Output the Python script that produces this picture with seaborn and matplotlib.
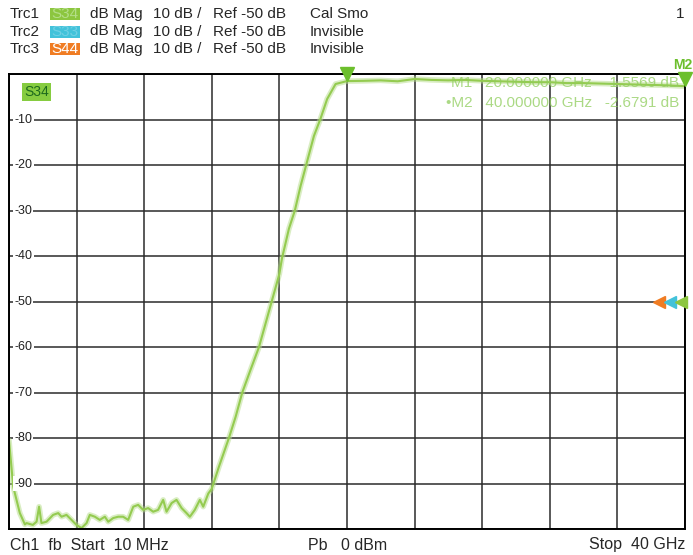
import matplotlib
matplotlib.use("Agg")
import matplotlib.pyplot as plt
import matplotlib.transforms as mtrans
from matplotlib.patches import Rectangle
import seaborn as sns
import pandas as pd
import numpy as np

sns.set_style("white")
plt.rcParams['font.family'] = ['Liberation Sans', 'DejaVu Sans']

# S34 trace (frequency in GHz, magnitude in dB)
freq_ghz = [0.01, 0.26, 0.65, 0.95, 1.05, 1.42, 1.64, 1.79, 1.93, 2.23, 2.62, 2.92,
            3.12, 3.41, 3.71, 4.0, 4.3, 4.6, 4.79, 5.09, 5.38, 5.68, 5.88, 6.17,
            6.47, 6.76, 7.06, 7.36, 7.65, 7.95, 8.24, 8.54, 8.83, 9.13, 9.33, 9.63,
            9.92, 10.22, 10.51, 10.71, 11.0, 11.3, 11.5, 11.8, 12.0, 12.43, 13.02,
            13.42, 13.81, 14.3, 14.8, 15.55, 16.0, 16.16, 16.57, 16.92, 17.26, 17.59,
            18.05, 18.44, 18.83, 19.33, 20.0, 21.0, 22.0, 23.0, 24.0, 25.0, 26.0,
            27.0, 28.0, 29.0, 30.0, 31.0, 32.0, 33.0, 34.0, 35.0, 36.0, 37.0, 38.0,
            39.0, 40.0]
s34_db = [-80.5, -90.7, -96.5, -99.0, -98.7, -99.1, -98.4, -95.1, -98.7, -98.4, -96.9, -96.5,
          -97.3, -96.9, -98.0, -99.1, -99.8, -98.7, -96.9, -97.3, -98.0, -97.3, -98.4, -97.6,
          -97.3, -97.3, -98.0, -95.1, -94.7, -95.8, -95.4, -96.2, -95.8, -93.6, -96.2, -94.3,
          -93.6, -95.4, -96.5, -97.3, -95.8, -93.6, -95.1, -92.2, -91.2, -86.3, -80.0,
          -75.3, -70.0, -65.0, -60.0, -50.0, -44.0, -40.5, -34.0, -30.0, -24.6, -20.0,
          -13.6, -9.8, -5.5, -2.2, -1.56, -1.5, -1.4, -1.6, -1.1, -1.3, -1.4,
          -1.3, -1.5, -1.6, -1.7, -1.8, -1.8, -2.0, -2.0, -2.1, -2.2, -2.3, -2.4,
          -2.5, -2.68]

marker_names = ["M1", "M2"]
marker_freq = [20.0, 40.0]
marker_db = [-1.5569, -2.6791]

y_ticks = [-10, -20, -30, -40, -50, -60, -70, -80, -90]
ref_level = -50
start_ghz, stop_ghz = 0.01, 40.0

green = "#8cc63f"
cyan = "#42c2da"
orange = "#f07c22"

W, H = 693, 555
fig = plt.figure(figsize=(W / 100, H / 100), dpi=100)
ax = fig.add_axes([9 / W, 26 / H, 676 / W, 455 / H])

df = pd.DataFrame({"freq": freq_ghz, "db": s34_db})
sns.lineplot(data=df, x="freq", y="db", ax=ax, color="#b5dd88", lw=4, alpha=0.5)
sns.lineplot(data=df, x="freq", y="db", ax=ax, color="#94cb50", lw=1.5)

ax.set_xlim(start_ghz, stop_ghz)
ax.set_ylim(-100, 0)
ax.set_xticks(np.linspace(start_ghz, stop_ghz, 11))
ax.set_yticks(np.arange(-100, 1, 10))
ax.grid(True, color="#2b2b2b", lw=1.1)
ax.tick_params(length=0, labelbottom=False, labelleft=False)
ax.set_xlabel("")
ax.set_ylabel("")
for s in ax.spines.values():
    s.set_color("black")
    s.set_linewidth(1.4)

# y labels written inside the grid
blend = mtrans.blended_transform_factory(ax.transAxes, ax.transData)
for v in y_ticks:
    ax.text(0.008, v, f"{v}", transform=blend, ha="left", va="center", fontsize=9,
            color="#222222", bbox=dict(fc="white", ec="none", pad=0.8), zorder=5)

ax.text(0.022, 0.96, "S34", transform=ax.transAxes, ha="left", va="center", fontsize=10,
        color="#1d6a1d", bbox=dict(fc="#86cc40", ec="none", pad=1.5), zorder=6)

# markers
up = lambda px: mtrans.ScaledTranslation(0, px / 100, fig.dpi_scale_trans)
for f, d in zip(marker_freq, marker_db):
    ax.plot([f], [d], marker="v", ms=10, color="#6cbf2c", transform=ax.transData + up(7),
            clip_on=False, zorder=7)
fig.text(692 / W, 1 - 65 / H, "M2", ha="right", va="center", fontsize=10,
         fontweight="bold", color="#6cbf2c")

rows = [f"{n}   {f:.6f} GHz   {d:.4f} dB" for n, f, d in zip(marker_names, marker_freq, marker_db)]
rows[1] = "\u2022" + rows[1]
for i, r in enumerate(rows):
    fig.text(679 / W, 1 - (83 + 20 * i) / H, r, ha="right", va="center", fontsize=11,
             color="#8fcd5c", alpha=0.75)

# reference level arrows on the right edge
for dx, c in [(-26, orange), (-15, cyan), (-4, green)]:
    ax.plot([1.0], [ref_level], marker="<", ms=8, color=c, clip_on=False, zorder=7,
            transform=blend + mtrans.ScaledTranslation(dx / 100, 0, fig.dpi_scale_trans))

# header
traces = ["Trc1", "Trc2", "Trc3"]
params = ["S34", "S33", "S44"]
tcolors = [green, cyan, orange]
tlabel_col = ["#b4de88", "#6ed0e4", "white"]
status = ["Cal Smo", "Invisible", "Invisible"]
for i in range(3):
    yc = 1 - (14 + 17.5 * i) / H
    fig.text(10 / W, yc, traces[i], ha="left", va="center", fontsize=11)
    fig.add_artist(Rectangle((50 / W, yc - 6 / H), 30 / W, 12 / H, transform=fig.transFigure,
                             fc=tcolors[i], ec="none"))
    fig.text(65 / W, yc, params[i], ha="center", va="center", fontsize=11, color=tlabel_col[i])
    fig.text(90 / W, yc, "dB Mag", ha="left", va="center", fontsize=11)
    fig.text(153 / W, yc, "10 dB /", ha="left", va="center", fontsize=11)
    fig.text(213 / W, yc, f"Ref {ref_level} dB", ha="left", va="center", fontsize=11)
    fig.text(310 / W, yc, status[i], ha="left", va="center", fontsize=11)
fig.text(684 / W, 1 - 14 / H, "1", ha="right", va="center", fontsize=11)

# footer
fig.text(10 / W, 1 - 545 / H, "Ch1  fb  Start  10 MHz", ha="left", va="center", fontsize=11.5)
fig.text(308 / W, 1 - 545 / H, "Pb   0 dBm", ha="left", va="center", fontsize=11.5)
fig.text(685 / W, 1 - 545 / H, "Stop  40 GHz", ha="right", va="center", fontsize=11.5)

fig.savefig("out.png", dpi=100)
